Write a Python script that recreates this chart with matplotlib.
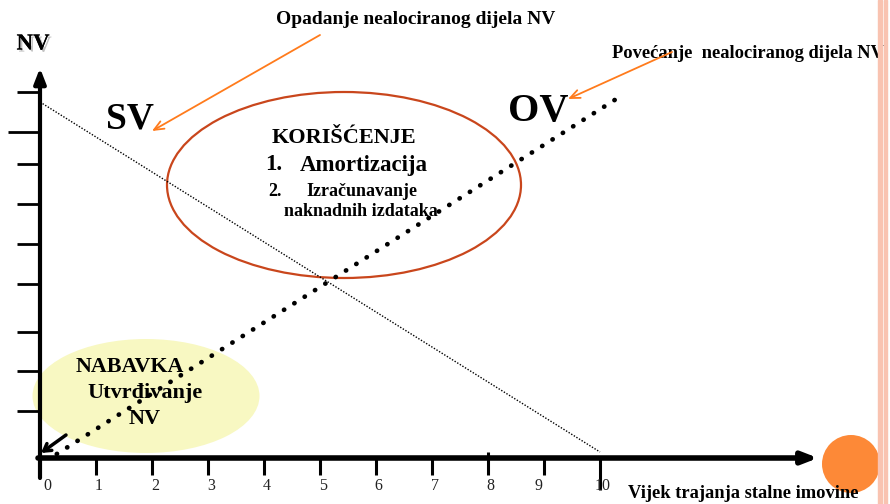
import matplotlib
matplotlib.use("Agg")
import matplotlib.pyplot as plt
from matplotlib.patches import Ellipse, Rectangle
import matplotlib.patheffects as pe

# ---------------- data ----------------
years = [0, 1, 2, 3, 4, 5, 6, 7, 8, 9, 10]
year_labels = ["0", "1", "2", "3", "4", "5", "6", "7", "8", "9", "10"]
y_tick_values = [9.15, 8.15, 7.35, 6.35, 5.35, 4.35, 3.15, 2.175, 1.175]
sv_x = [0.0, 10.0]          # sadašnja vrijednost (opada)
sv_y = [8.9, 0.15]
ov_x = [0.30, 10.29]        # otpisana vrijednost (raste)
ov_y = [0.10, 8.975]

# ---------------- figure ----------------
plt.rcParams['font.family'] = ['Liberation Serif', 'DejaVu Serif']
fig = plt.figure(figsize=(8.9, 5.04), dpi=100)
ax = fig.add_axes([0, 0, 1, 1])
ax.set_xlim(-40 / 56, 850 / 56)
ax.set_ylim(-46 / 40, 458 / 40)
ax.axis('off')

def P(px, py):
    """pixel position -> data position (for annotations only)"""
    return ((px - 40) / 56, (458 - py) / 40)

# pink frame stripes at the right
for x0, w in [(878, 4), (884, 3)]:
    fig.patches.append(Rectangle((x0 / 890, 0), w / 890, 1, transform=fig.transFigure,
                                 color='#f9c3b1', zorder=0))

# ellipses
ax.add_patch(Ellipse(P(146, 396), 227 / 56, 114 / 40, facecolor='#f8f8c2', edgecolor='none', zorder=1))
ax.add_patch(Ellipse(P(344, 185), 354 / 56, 186 / 40, facecolor='none', edgecolor='#c9461c', lw=1.6, zorder=2))

# axes arrows
ax.annotate('', xy=P(40, 68), xytext=P(40, 478),
            arrowprops=dict(arrowstyle='-|>,head_length=0.9,head_width=0.35', lw=3, color='black',
                            shrinkA=0, shrinkB=0), zorder=4)
ax.annotate('', xy=P(818, 458), xytext=P(38, 458),
            arrowprops=dict(arrowstyle='-|>,head_length=0.9,head_width=0.35', lw=4, color='black',
                            shrinkA=0, shrinkB=0), zorder=4)

# y ticks
for i, yv in enumerate(y_tick_values):
    x_left = -32 / 56 if i == 1 else -23 / 56
    ax.plot([x_left, 0], [yv, yv], color='black', lw=2, solid_capstyle='butt', zorder=4)

# x ticks and labels
for xv in years:
    if xv == 0:
        continue
    bot = -32 / 40 if xv == 10 else -17 / 40
    top = 6 / 40 if xv == 8 else 0
    ax.plot([xv, xv], [bot, top], color='black', lw=2.2, solid_capstyle='butt', zorder=4)
for xv, lab in zip(years, year_labels):
    off = 0.14 if xv == 0 else (0.05 if xv < 9 else (-0.1 if xv == 9 else 0.05))
    ax.text(xv + off, -28 / 40, lab, ha='center', va='center', fontsize=11.5, color='#222222', zorder=5)

# SV line (thin dotted)
ax.plot(sv_x, sv_y, color='black', lw=1.0, linestyle=(0, (1, 1.2)), zorder=3)
# OV line (big dots)
ax.plot(ov_x, ov_y, color='black', lw=3.4, linestyle=(0, (0.05, 2.54)),
        dash_capstyle='round', zorder=6)

# orange circle
ax.add_patch(Ellipse(P(851, 464), 58 / 56, 58 / 40, facecolor='#fd8937', edgecolor='none', zorder=5))

# texts
shadow = [pe.withSimplePatchShadow(offset=(1.5, -1.5), shadow_rgbFace='#999999', alpha=0.6), pe.Normal()]
ax.text(*P(33, 44), 'NV', fontsize=16.5, fontweight='bold', ha='center', va='center',
        path_effects=shadow, zorder=7)
ax.text(*P(416, 20), 'Opadanje nealociranog dijela NV', fontsize=14, fontweight='bold',
        ha='center', va='center', zorder=7)
ax.text(*P(748, 53), 'Povećanje  nealociranog dijela NV', fontsize=13.3, fontweight='bold',
        ha='center', va='center', zorder=7)
ax.text(*P(130, 119), 'SV', fontsize=27, fontweight='bold', ha='center', va='center', zorder=7)
ax.text(*P(538, 111), 'OV', fontsize=29, fontweight='bold', ha='center', va='center', zorder=7)
ax.text(*P(344, 138), 'KORIŠĆENJE', fontsize=16, fontweight='bold', ha='center', va='center', zorder=7)
ax.text(*P(265, 165), '1.', fontsize=16.5, fontweight='bold', ha='left', va='center', zorder=7)
ax.text(*P(300, 165), 'Amortizacija', fontsize=16.5, fontweight='bold', ha='left', va='center', zorder=7)
ax.text(*P(268, 191), '2.', fontsize=13, fontweight='bold', ha='left', va='center', zorder=7)
ax.text(*P(362, 191), 'Izračunavanje', fontsize=13, fontweight='bold', ha='center', va='center', zorder=7)
ax.text(*P(361, 212), 'naknadnih izdataka', fontsize=13, fontweight='bold', ha='center', va='center', zorder=7)
ax.text(*P(130, 367), 'NABAVKA', fontsize=15.8, fontweight='bold', ha='center', va='center', zorder=5)
ax.text(*P(145, 393), 'Utvrđivanje', fontsize=16, fontweight='bold', ha='center', va='center', zorder=5)
ax.text(*P(145, 419), 'NV', fontsize=16, fontweight='bold', ha='center', va='center', zorder=5)
ax.text(*P(743, 494), 'Vijek trajanja stalne imovine', fontsize=13.3, fontweight='bold',
        ha='center', va='center', zorder=7)

# orange pointer arrows
ax.annotate('', xy=P(152, 131), xytext=P(320, 35),
            arrowprops=dict(arrowstyle='->,head_length=0.7,head_width=0.3', lw=1.3, color='#ff7b1c',
                            shrinkA=0, shrinkB=0), zorder=8)
ax.annotate('', xy=P(568, 99), xytext=P(672, 52),
            arrowprops=dict(arrowstyle='->,head_length=0.7,head_width=0.3', lw=1.3, color='#ff7b1c',
                            shrinkA=0, shrinkB=0), zorder=8)
# black arrow to origin
ax.annotate('', xy=P(41, 453), xytext=P(66, 435),
            arrowprops=dict(arrowstyle='->,head_length=0.5,head_width=0.3', lw=2.5, color='black',
                            shrinkA=0, shrinkB=0), zorder=8)

fig.savefig('out.png', dpi=100)
